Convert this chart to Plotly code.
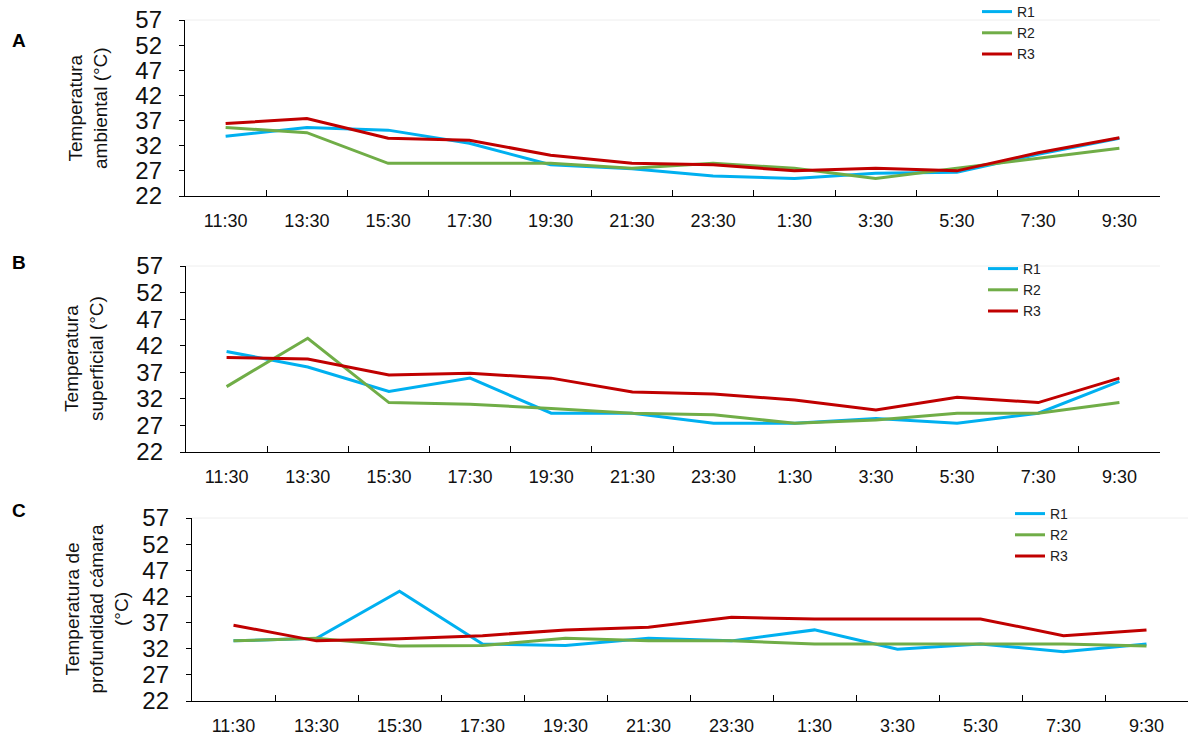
import plotly.graph_objects as go

times = ["11:30", "13:30", "15:30", "17:30", "19:30", "21:30", "23:30",
         "1:30", "3:30", "5:30", "7:30", "9:30"]
series_names = ["R1", "R2", "R3"]
colors = ["#00B0F0", "#70AD47", "#C00000"]

a_r1 = [33.9, 35.6, 35.1, 32.5, 28.2, 27.4, 26.0, 25.5, 26.5, 26.7, 30.3, 33.5]
a_r2 = [35.6, 34.6, 28.5, 28.5, 28.5, 27.5, 28.5, 27.5, 25.5, 27.5, 29.5, 31.5]
a_r3 = [36.4, 37.4, 33.5, 33.1, 30.1, 28.5, 28.2, 27.0, 27.5, 27.0, 30.6, 33.6]

b_r1 = [40.9, 38.0, 33.4, 35.9, 29.3, 29.3, 27.4, 27.4, 28.3, 27.4, 29.3, 35.3]
b_r2 = [34.3, 43.4, 31.3, 31.0, 30.2, 29.3, 29.0, 27.4, 28.0, 29.3, 29.3, 31.3]
b_r3 = [39.8, 39.5, 36.5, 36.8, 35.9, 33.3, 32.9, 31.8, 29.9, 32.3, 31.3, 35.9]

c_r1 = [33.5, 34.0, 43.0, 32.9, 32.6, 34.0, 33.5, 35.6, 31.9, 32.9, 31.4, 32.9]
c_r2 = [33.5, 34.0, 32.5, 32.6, 34.0, 33.5, 33.5, 32.9, 32.9, 32.9, 32.9, 32.5]
c_r3 = [36.5, 33.5, 33.9, 34.5, 35.6, 36.1, 38.0, 37.7, 37.7, 37.7, 34.5, 35.6]

y_ticks = [22, 27, 32, 37, 42, 47, 52, 57]
panel_letters = ["A", "B", "C"]
y_titles = ["Temperatura<br>ambiental (°C)",
            "Temperatura<br>superficial (°C)",
            "Temperatura de<br>profundidad cámara<br>(°C)"]

panels = [[a_r1, a_r2, a_r3], [b_r1, b_r2, b_r3], [c_r1, c_r2, c_r3]]

W, H = 1196, 736
FONT = "Arial, Liberation Sans, sans-serif"


def px(x):
    return x / W


def py(y):
    return 1 - y / H


# page-pixel geometry of each plot area: (left, right, top, bottom)
geo = [(185, 1160, 20, 196), (186, 1160, 266, 452), (192, 1188, 518, 701)]
legend_pos = [(977, -4), (983, 253), (1010, 498)]
title_x = [88, 84, 96]
letter_y = [40, 262, 511]

fig = go.Figure()
for i, (vals, (l, r, t, b)) in enumerate(zip(panels, geo)):
    sfx = "" if i == 0 else str(i + 1)
    leg = "legend" if i == 0 else "legend" + str(i + 1)
    for name, v, c in zip(series_names, vals, colors):
        fig.add_trace(go.Scatter(
            x=times, y=v, name=name, mode="lines",
            line=dict(color=c, width=3),
            xaxis="x" + sfx, yaxis="y" + sfx, legend=leg,
        ))
    fig.layout["xaxis" + sfx] = dict(
        domain=[px(l), px(r)], anchor="y" + sfx, type="category",
        categoryorder="array", categoryarray=times, automargin=False,
        range=[-0.5, 11.5], tickson="boundaries", ticks="inside", ticklen=6,
        tickcolor="#000", showline=True, linecolor="#000", linewidth=1.3,
        showgrid=False, zeroline=False, ticklabelstandoff=8,
        tickfont=dict(family=FONT, size=18, color="#111"),
    )
    fig.layout["yaxis" + sfx] = dict(
        domain=[py(b), py(t)], anchor="x" + sfx, automargin=False,
        range=[22, 57], tickvals=y_ticks, ticks="outside", ticklen=5,
        tickcolor="#000", showline=True, linecolor="#000", linewidth=1.3,
        showgrid=False, zeroline=False, ticklabelstandoff=12,
        tickfont=dict(family=FONT, size=24, color="#111"),
    )
    lx, ly = legend_pos[i]
    fig.layout[leg] = dict(
        x=px(lx), y=py(ly), xanchor="left", yanchor="top",
        bgcolor="rgba(0,0,0,0)", borderwidth=0, itemwidth=30,
        font=dict(family=FONT, size=14, color="#222"),
        tracegroupgap=0,
    )
    # faint top border of plot area
    fig.add_shape(type="line", xref="x" + sfx + " domain", yref="y" + sfx + " domain",
                  x0=0, x1=1, y0=1, y1=1, line=dict(color="#eeeeee", width=1))
    fig.add_annotation(text=y_titles[i], xref="paper", yref="paper",
                       x=px(title_x[i]), y=py((t + b) / 2), textangle=-90,
                       showarrow=False, xanchor="center", yanchor="middle",
                       font=dict(family=FONT, size=19, color="#111"))
    fig.add_annotation(text="<b>" + panel_letters[i] + "</b>", xref="paper", yref="paper",
                       x=px(19), y=py(letter_y[i]), showarrow=False,
                       xanchor="center", yanchor="middle",
                       font=dict(family=FONT, size=19, color="#000"))

fig.update_layout(
    width=W, height=H, margin=dict(l=0, r=0, t=0, b=0, autoexpand=False),
    paper_bgcolor="white", plot_bgcolor="white", showlegend=True,
)
fig.write_html("out.html", config={"displayModeBar": False},
               post_script="document.body.style.margin='0';document.body.style.overflow='hidden';")
